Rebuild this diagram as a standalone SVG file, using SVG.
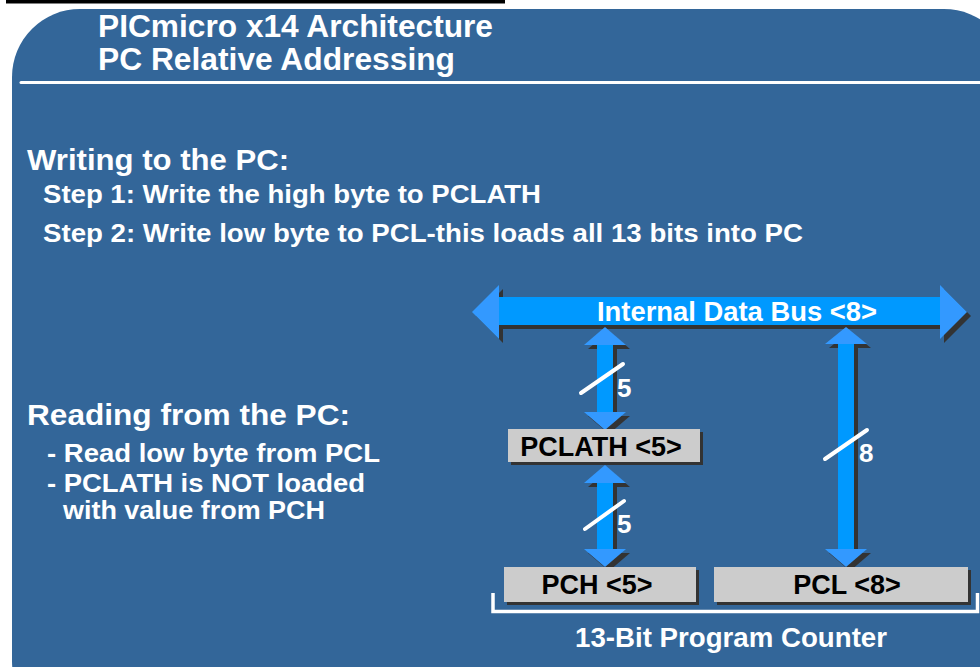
<svg xmlns="http://www.w3.org/2000/svg" width="980" height="667" viewBox="0 0 980 667">
  <style>
    .t { font-family: "Liberation Sans", Arial, sans-serif; font-weight: bold; fill: #FFFFFF; }
    .bt { font-family: "Liberation Sans", Arial, sans-serif; font-weight: bold; fill: #000000; font-size: 27px; }
    .shaft { fill: #0099FF; }
    .head { fill: #3399FF; }
    .shadow { fill: #333333; }
    .box { fill: #CCCCCC; }
    .slash { stroke: #FFFFFF; stroke-width: 4; stroke-linecap: round; fill: none; }
  </style>
  <defs>
    <g id="bus-shape">
      <polygon points="472,312 499,285 499,339"/>
      <rect x="499" y="297" width="441" height="28"/>
      <polygon points="940,285 967,312 940,339"/>
    </g>
  </defs>

  <rect x="0" y="0" width="980" height="667" fill="#FFFFFF"/>
  <rect x="6" y="0" width="499" height="3.5" fill="#000000"/>
  <rect x="12" y="9" width="1000" height="720" rx="68" ry="68" fill="#336699"/>
  <line x1="21" y1="82.5" x2="990" y2="82.5" stroke="#FFFFFF" stroke-width="3" stroke-linecap="round"/>

  <g id="title">
    <text class="t" x="98" y="37" font-size="31" textLength="395" lengthAdjust="spacingAndGlyphs">PICmicro x14 Architecture</text>
    <text class="t" x="98" y="70" font-size="31" textLength="357" lengthAdjust="spacingAndGlyphs">PC Relative Addressing</text>
  </g>

  <g id="writing-text">
    <text class="t" x="27" y="170" font-size="29" textLength="262" lengthAdjust="spacingAndGlyphs">Writing to the PC:</text>
    <text class="t" x="43" y="203" font-size="25" textLength="498" lengthAdjust="spacingAndGlyphs">Step 1: Write the high byte to PCLATH</text>
    <text class="t" x="43" y="242" font-size="25" textLength="760" lengthAdjust="spacingAndGlyphs">Step 2: Write low byte to PCL-this loads all 13 bits into PC</text>
  </g>

  <g id="reading-text">
    <text class="t" x="27" y="425" font-size="29" textLength="323" lengthAdjust="spacingAndGlyphs">Reading from the PC:</text>
    <text class="t" x="47" y="462" font-size="25" textLength="333" lengthAdjust="spacingAndGlyphs">- Read low byte from PCL</text>
    <text class="t" x="47" y="492" font-size="25" textLength="318" lengthAdjust="spacingAndGlyphs">- PCLATH is NOT loaded</text>
    <text class="t" x="63" y="519" font-size="25" textLength="262" lengthAdjust="spacingAndGlyphs">with value from PCH</text>
  </g>

  <g id="bus">
    <use href="#bus-shape" class="shadow" transform="translate(4,4)"/>
    <polygon class="head" points="472,312 499,285 499,339"/>
    <rect class="shaft" x="499" y="297" width="441" height="28"/>
    <polygon class="head" points="940,285 967,312 940,339"/>
    <text class="t" x="597" y="321" font-size="27" textLength="280" lengthAdjust="spacingAndGlyphs">Internal Data Bus &lt;8&gt;</text>
  </g>

  <g id="connectors">
    <g id="bus-pclath">
      <g class="shadow" transform="translate(4,4)">
        <polygon points="605,327 626,345 584,345"/>
        <rect x="597" y="345" width="16" height="67"/>
        <polygon points="584,412 626,412 605,430"/>
      </g>
      <rect class="shaft" x="597" y="344" width="16" height="69"/>
      <polygon class="head" points="605,327 626,345 584,345"/>
      <polygon class="head" points="584,412 626,412 605,430"/>
      <line class="slash" x1="581" y1="393" x2="623" y2="364"/>
      <text class="t" x="617" y="397" font-size="26">5</text>
    </g>
    <g id="pclath-pch">
      <g class="shadow" transform="translate(4,4)">
        <polygon points="605,465 626,483 584,483"/>
        <rect x="597" y="483" width="16" height="66"/>
        <polygon points="584,549 626,549 605,567"/>
      </g>
      <rect class="shaft" x="597" y="482" width="16" height="68"/>
      <polygon class="head" points="605,465 626,483 584,483"/>
      <polygon class="head" points="584,549 626,549 605,567"/>
      <line class="slash" x1="585" y1="529" x2="624" y2="501"/>
      <text class="t" x="617" y="533" font-size="26">5</text>
    </g>
    <g id="bus-pcl">
      <g class="shadow" transform="translate(4,4)">
        <polygon points="846,327 867,344 825,344"/>
        <rect x="838" y="344" width="16" height="205"/>
        <polygon points="825,549 867,549 846,567"/>
      </g>
      <rect class="shaft" x="838" y="343" width="16" height="207"/>
      <polygon class="head" points="846,327 867,344 825,344"/>
      <polygon class="head" points="825,549 867,549 846,567"/>
      <line class="slash" x1="825" y1="459" x2="867" y2="430"/>
      <text class="t" x="859" y="462" font-size="26">8</text>
    </g>
  </g>

  <g id="pclath">
    <rect class="shadow" x="511" y="432" width="192" height="33"/>
    <rect class="box" x="508" y="429" width="192" height="33"/>
    <text class="bt" x="601" y="456" text-anchor="middle">PCLATH &lt;5&gt;</text>
  </g>

  <g id="pch">
    <rect class="shadow" x="507" y="570" width="192" height="35"/>
    <rect class="box" x="504" y="567" width="192" height="35"/>
    <text class="bt" x="597" y="594" text-anchor="middle">PCH &lt;5&gt;</text>
  </g>

  <g id="pcl">
    <rect class="shadow" x="717" y="570" width="254" height="35"/>
    <rect class="box" x="714" y="567" width="254" height="35"/>
    <text class="bt" x="847" y="594" text-anchor="middle">PCL &lt;8&gt;</text>
  </g>

  <g id="program-counter">
    <path d="M493,593 V611.5 H977.5 V593" fill="none" stroke="#FFFFFF" stroke-width="3.5"/>
    <text class="t" x="575" y="647" font-size="27" textLength="312" lengthAdjust="spacingAndGlyphs">13-Bit Program Counter</text>
  </g>
</svg>
